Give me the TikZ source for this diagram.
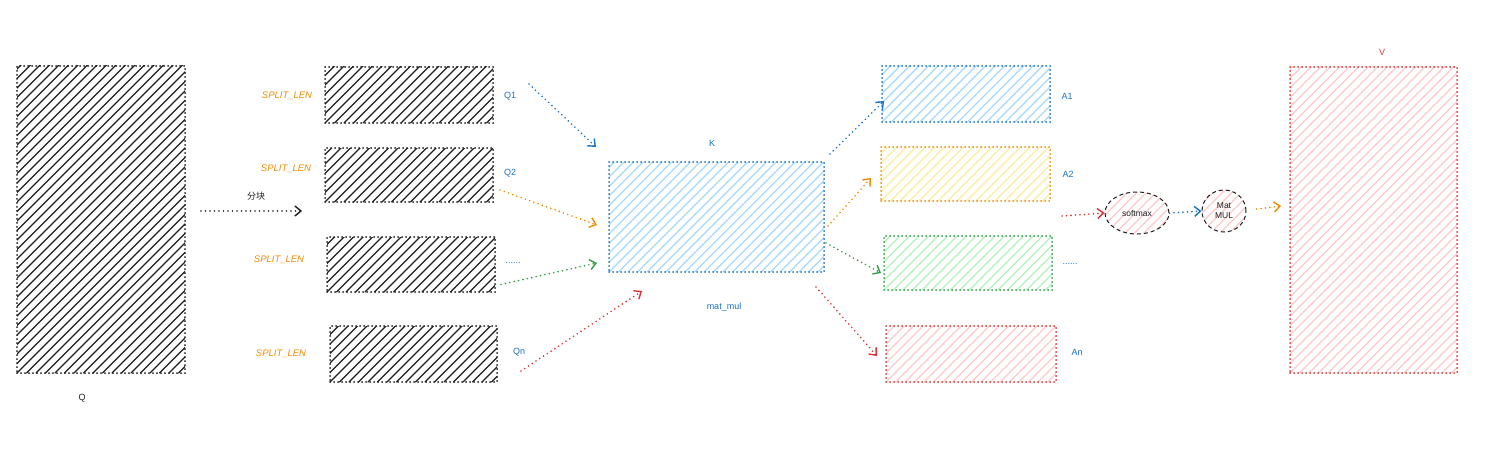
\documentclass[tikz,border=0pt]{standalone}
\usepackage{fontspec}
\setmainfont{Liberation Sans}
\newfontfamily\cjk{Noto Sans CJK SC}
\usetikzlibrary{arrows.meta,calc,shapes.geometric}
\definecolor{ink}{HTML}{1E1E1E}
\definecolor{eblue}{HTML}{1971C2}
\definecolor{eorange}{HTML}{F08C00}
\definecolor{egreen}{HTML}{2F9E44}
\definecolor{ered}{HTML}{E03131}
\definecolor{lblue}{HTML}{A5D8FF}
\definecolor{lyellow}{HTML}{FFEC99}
\definecolor{lgreen}{HTML}{B2F2BB}
\definecolor{lpink}{HTML}{FFC9C9}
\tikzset{
  box/.style={rectangle, inner sep=0pt, outer sep=0pt, anchor=north west,
    line width=2pt, dash pattern=on 0pt off 4pt, line cap=round},
  hatch/.style={path picture={
    \foreach \i in {-34,...,24}
      \draw[#1, solid, line width=1.2pt]
        ($(path picture bounding box.south west)+(\i*9.5pt,0pt)$) -- ++(330pt,330pt);}},
  arr/.style={line width=1.8pt, dash pattern=on 0pt off 4.5pt, line cap=round,
    -{Straight Barb[length=6pt,width=10pt,line width=1.4pt]}},
  lbl/.style={inner sep=1pt, font=\fontsize{9}{10}\selectfont},
  split/.style={lbl, text=eorange, font=\fontsize{9.5}{10}\selectfont\itshape},
  oval/.style={ellipse, draw=ink, line width=1pt, dash pattern=on 4pt off 3pt,
    inner sep=0pt, hatch=lpink, font=\fontsize{8.5}{10}\selectfont, align=center, text=ink}
}
\begin{document}
\begin{tikzpicture}[x=1pt,y=-1pt]
\useasboundingbox (0,0) rectangle (1492,452);
% Q
\node[box, draw=ink, hatch=ink, minimum width=168, minimum height=307] (q) at (17,66) {};
\node[lbl, text=ink] (qlab) at (82,398) {Q};
% split arrow
\coordinate (splitstart) at (201,211);
\coordinate (splitend) at (302,211);
\draw[arr, ink] (splitstart) -- (splitend);
\node[lbl, text=ink, font=\fontsize{9}{10}\selectfont\cjk] (fenkuai) at (256,196) {分块};
% Q blocks
\node[box, draw=ink, hatch=ink, minimum width=168, minimum height=56] (q1) at (325,67) {};
\node[box, draw=ink, hatch=ink, minimum width=168, minimum height=54] (q2) at (325,148) {};
\node[box, draw=ink, hatch=ink, minimum width=168, minimum height=55] (q3) at (327,237) {};
\node[box, draw=ink, hatch=ink, minimum width=167, minimum height=56] (qn) at (330,326) {};
\node[split] (s1) at (287,96) {SPLIT\_LEN};
\node[split] (s2) at (286,169) {SPLIT\_LEN};
\node[split] (s3) at (279,260) {SPLIT\_LEN};
\node[split] (s4) at (281,354) {SPLIT\_LEN};
\node[lbl, text=eblue] (q1lab) at (510,96) {Q1};
\node[lbl, text=eblue] (q2lab) at (510,173) {Q2};
\node[lbl, text=eblue] (q3lab) at (513,263) {......};
\node[lbl, text=eblue] (qnlab) at (519,352) {Qn};
% K
\node[box, draw=eblue, hatch=lblue, minimum width=215, minimum height=110] (k) at (609,162) {};
\node[lbl, text=eblue] (klab) at (712,143) {K};
\node[lbl, text=eblue] (mm) at (724,307) {mat\_mul};
% arrows into K
\draw[arr, eblue] ($(q1.east)+(36,-11)$) -- ($(k.north west)+(-13,-15)$);
\draw[arr, eorange] ($(q2.east)+(7,15)$) -- ($(k.west)+(-12,8)$);
\draw[arr, egreen] ($(q3.east)+(6,20)$) -- ($(k.west)+(-12,46)$);
\draw[arr, ered] ($(qn.east)+(24,17)$) -- ($(k.south west)+(33,19)$);
% A blocks
\node[box, draw=eblue, hatch=lblue, minimum width=168, minimum height=56] (a1) at (882,66) {};
\node[box, draw=eorange, hatch=lyellow, minimum width=169, minimum height=54] (a2) at (881,147) {};
\node[box, draw=egreen, hatch=lgreen, minimum width=168, minimum height=54] (a3) at (884,236) {};
\node[box, draw=ered, hatch=lpink, minimum width=170, minimum height=56] (an) at (886,326) {};
\node[lbl, text=eblue] (a1lab) at (1067,96) {A1};
\node[lbl, text=eblue] (a2lab) at (1068,174) {A2};
\node[lbl, text=eblue] (a3lab) at (1070,264) {......};
\node[lbl, text=eblue] (anlab) at (1077,352) {An};
% arrows out of K
\draw[arr, eblue] ($(k.north east)+(6,-8)$) -- ($(a1.west)+(2,7)$);
\draw[arr, eorange] ($(k.east)+(4,9)$) -- ($(a2.west)+(-10,4)$);
\draw[arr, egreen] ($(k.east)+(2,26)$) -- ($(a3.west)+(-3,10)$);
\draw[arr, ered] ($(k.south east)+(-8,15)$) -- ($(an.west)+(-9,2)$);
% softmax and MatMUL
\node[oval, minimum width=64, minimum height=42] (sm) at (1137,213) {softmax};
\node[oval, minimum width=44, minimum height=42] (mat) at (1224,211) {Mat\\MUL};
\coordinate (smin) at (1062,216);
\draw[arr, ered] (smin) -- (sm.west);
\draw[arr, eblue] (sm.east) -- (mat.west);
% V
\node[box, draw=ered, hatch=lpink, minimum width=167, minimum height=306] (v) at (1290,67) {};
\node[lbl, text=ered] (vlab) at (1382,52) {V};
\draw[arr, eorange] ($(mat.east)+(10,-2)$) -- ($(v.west)+(-9,-14)$);
\end{tikzpicture}
\end{document}
